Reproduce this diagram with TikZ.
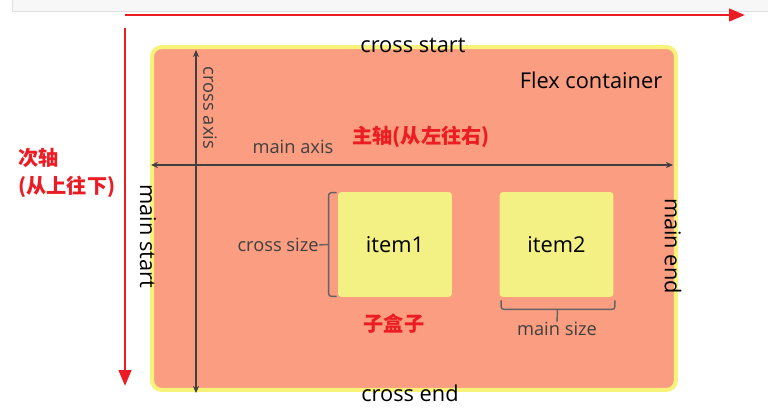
\documentclass[tikz,border=0pt]{standalone}
\usepackage{fontspec}
\setmainfont{Open Sans}
\newfontfamily\cjk{Noto Sans CJK SC}
\usetikzlibrary{positioning,calc,arrows.meta}
\definecolor{axisred}{RGB}{236,28,36}
\definecolor{flexfill}{RGB}{250,157,128}
\definecolor{flexborder}{RGB}{246,242,122}
\definecolor{itemfill}{RGB}{243,240,132}
\definecolor{axisgray}{RGB}{64,64,64}
\definecolor{bracegray}{RGB}{100,100,100}
\definecolor{bargray}{RGB}{247,247,247}
\tikzset{
  redaxis/.style={draw=axisred, line width=1.7pt, -{Triangle[length=9pt,width=7pt]}},
  flexaxis/.style={draw=axisgray, line width=1pt, {Stealth[length=4pt,width=3.5pt]}-{Stealth[length=4pt,width=3.5pt]}},
  container/.style={draw=flexborder, fill=flexfill, line width=2.3pt, rounded corners=5.5pt},
  item/.style={fill=itemfill, rounded corners=2pt, minimum width=2.28cm, minimum height=2.1cm, font=\fontsize{12.4}{14}\selectfont},
  bigtext/.style={font=\fontsize{12.4}{14}\selectfont, text=black, inner sep=0pt},
  smalltext/.style={font=\fontsize{10.4}{12}\selectfont, text=axisgray, inner sep=0pt},
  redtext/.style={font=\cjk\bfseries\fontsize{11.5}{16}\selectfont, text=axisred, inner sep=0pt},
  bracket/.style={draw=bracegray, line width=0.8pt, rounded corners=1.5pt}
}
\begin{document}
\begin{tikzpicture}[x=0.02cm, y=-0.02cm]
\useasboundingbox (0,0) rectangle (768,409);
% screenshot bar
\path[fill=bargray, draw=gray!25] (12,-5) rectangle (775,11);

% directions
\coordinate (mainfrom) at (125,15);
\coordinate (mainto) at (745,15);
\coordinate (crossfrom) at (125,28);
\coordinate (crossto) at (125,386);
\draw[redaxis] (mainfrom) -- (mainto);
\draw[redaxis] (crossfrom) -- (crossto);
\node (crosstitle) [redtext, align=left, anchor=west] at (18,173) {次轴\\(从上往下)};

% flex container
\node (flex) [container, minimum width=10.48cm, minimum height=6.86cm] at (414,218.5) {};
\node (flexname) [bigtext] at (591,80) {Flex container};
\node (cstart) [bigtext] at (413,45) {cross start};
\node (cend) [bigtext] at (410,393) {cross end};
\node (mstart) [bigtext, rotate=-90] at (148,236) {main start};
\node (mend) [bigtext, rotate=-90] at (673,246) {main end};

% axes
\coordinate (caxistop) at (196,50);
\coordinate (caxisbot) at (196,393);
\coordinate (maxisleft) at (151,165);
\coordinate (maxisright) at (673,165);
\draw[flexaxis] (caxisbot) -- (caxistop);
\draw[flexaxis] (maxisleft) -- (maxisright);
\node (caxislbl) [smalltext, rotate=-90] at (210,108) {cross axis};
\node (maxislbl) [smalltext] at (293,147) {main axis};
\node (maintitle) [redtext] at (421,137) {主轴(从左往右)};

% items
\node (item1) [item] at (395,244.5) {item1};
\node (item2) [item] at (556.5,244.5) {item2};
\node (boxtitle) [redtext] at (394,324) {子盒子};

% sizes
\node (csizelbl) [smalltext, anchor=east] at (319,245) {cross size};
\draw[bracket] ($(item1.north west)+(-1,1)$) -- ++(-8,0) -- ($(item1.south west)+(-9,-1)$) -- ++(8,0);
\draw[bracket] ($(item1.west)+(-9,0)$) -- (csizelbl.east);
\node (msizelbl) [smalltext] at (557,329) {main size};
\draw[bracket] ($(item2.south west)+(2,3)$) -- ++(0,9) -- ($(item2.south east)+(1,12)$) -- ++(0,-9);
\draw[bracket] ($(item2.south)+(1,12)$) -- (msizelbl.north);
\end{tikzpicture}
\end{document}
